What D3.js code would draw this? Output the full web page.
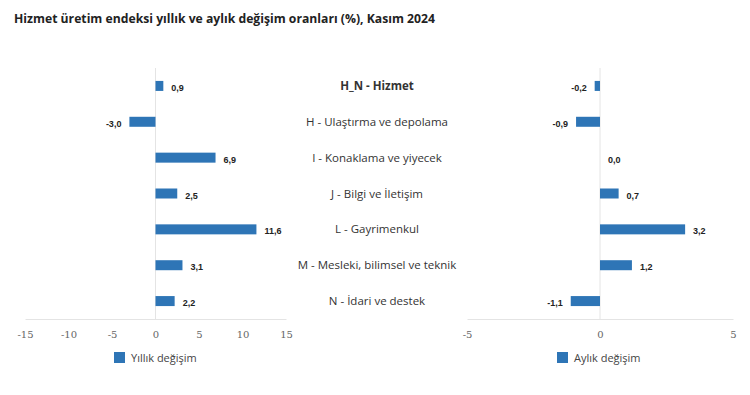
<!DOCTYPE html>
<html>
<head>
<meta charset="utf-8">
<script src="https://cdn.jsdelivr.net/npm/d3@7"></script>
<style>
  body { margin: 0; background: #fff; }
  svg { font-family: "Open Sans", "Noto Sans", sans-serif; }
</style>
</head>
<body>
<svg width="750" height="395"></svg>
<script>
var categories = ["H_N - Hizmet", "H - Ulaştırma ve depolama", "I - Konaklama ve yiyecek",
  "J - Bilgi ve İletişim", "L - Gayrimenkul", "M - Mesleki, bilimsel ve teknik", "N - İdari ve destek"];
var yillik = [0.9, -3.0, 6.9, 2.5, 11.6, 3.1, 2.2];
var aylik = [-0.2, -0.9, 0.0, 0.7, 3.2, 1.2, -1.1];
var leftTicks = [-15, -10, -5, 0, 5, 10, 15];
var rightTicks = [-5, 0, 5];

var svg = d3.select("svg"),
    barColor = "#2e75b6",
    fmt = function (v) { return v.toFixed(1).replace(".", ","); };

svg.append("text")
    .attr("x", 14).attr("y", 23)
    .attr("font-size", "12.2px").attr("font-weight", "bold").attr("fill", "#222")
    .text("Hizmet üretim endeksi yıllık ve aylık değişim oranları (%), Kasım 2024");

var y = d3.scaleBand().domain(categories).range([68, 319]);

function drawPanel(values, domain, ticks, x0, x1, legendX, legendText) {
  var x = d3.scaleLinear().domain(domain).range([x0, x1]);
  var g = svg.append("g");

  // zero line
  g.append("line")
      .attr("x1", x(0)).attr("x2", x(0))
      .attr("y1", 68).attr("y2", 319)
      .attr("stroke", "#e4e4e4");

  var axis = g.append("g")
      .attr("transform", "translate(0,319)")
      .call(d3.axisBottom(x).tickValues(ticks).tickSize(0).tickPadding(12)
        .tickFormat(function (d) { return String(d); }));
  axis.select(".domain").attr("stroke", "#e4e4e4");
  axis.selectAll("text").attr("fill", "#666")
      .attr("font-family", "'DejaVu Serif', serif").style("font-size", "10px");

  g.selectAll("rect.bar").data(values).enter().append("rect")
      .attr("class", "bar")
      .attr("x", function (d) { return x(Math.min(0, d)); })
      .attr("y", function (d, i) { return y(categories[i]) + y.bandwidth() / 2 - 5; })
      .attr("width", function (d) { return Math.abs(x(d) - x(0)); })
      .attr("height", 10)
      .attr("fill", barColor);

  g.selectAll("text.val").data(values).enter().append("text")
      .attr("class", "val")
      .attr("x", function (d) { return d < 0 ? x(d) - 8 : x(d) + 8; })
      .attr("y", function (d, i) { return y(categories[i]) + y.bandwidth() / 2 + 5; })
      .attr("text-anchor", function (d) { return d < 0 ? "end" : "start"; })
      .attr("font-family", "'Liberation Sans', Arial, sans-serif")
      .attr("font-size", "9px").attr("font-weight", "bold").attr("fill", "#222")
      .text(fmt);

  svg.append("rect")
      .attr("x", legendX).attr("y", 352).attr("width", 11).attr("height", 11)
      .attr("fill", barColor);
  svg.append("text")
      .attr("x", legendX + 17).attr("y", 362)
      .attr("font-size", "11px").attr("fill", "#444")
      .text(legendText);
}

drawPanel(yillik, [-15, 15], leftTicks, 25, 286, 114, "Yıllık değişim");
drawPanel(aylik, [-5, 5], rightTicks, 467, 733, 557, "Aylık değişim");

svg.selectAll("text.cat").data(categories).enter().append("text")
    .attr("class", "cat")
    .attr("x", 377)
    .attr("y", function (d) { return y(d) + y.bandwidth() / 2 + 4; })
    .attr("text-anchor", "middle")
    .attr("font-size", "11.5px")
    .attr("font-weight", function (d, i) { return i === 0 ? "bold" : "normal"; })
    .attr("fill", "#333")
    .text(function (d) { return d; });
</script>
</body>
</html>
